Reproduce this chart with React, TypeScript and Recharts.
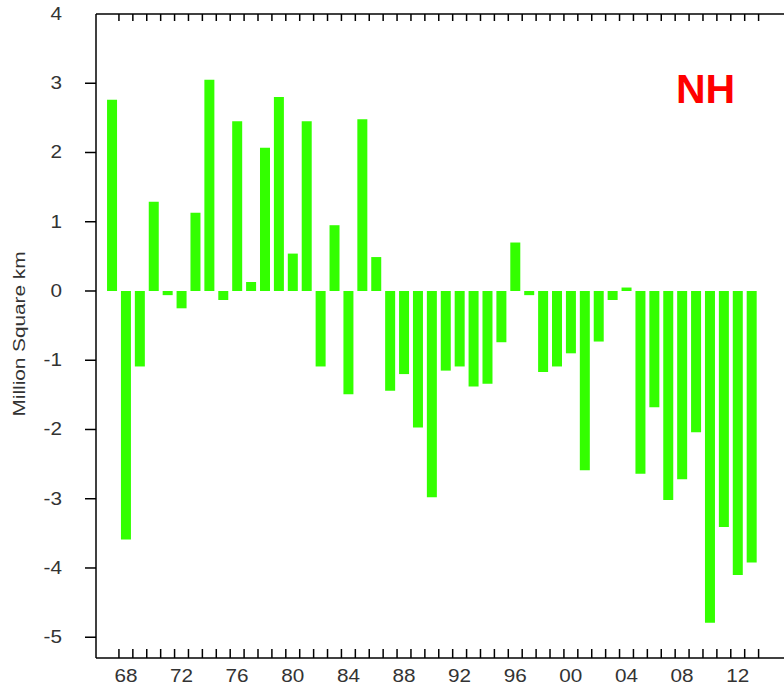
import React from "react";
import { BarChart, Bar, XAxis, YAxis } from "recharts";

const years = [
  1967, 1968, 1969, 1970, 1971, 1972, 1973, 1974, 1975, 1976, 1977, 1978,
  1979, 1980, 1981, 1982, 1983, 1984, 1985, 1986, 1987, 1988, 1989, 1990,
  1991, 1992, 1993, 1994, 1995, 1996, 1997, 1998, 1999, 2000, 2001, 2002,
  2003, 2004, 2005, 2006, 2007, 2008, 2009, 2010, 2011, 2012, 2013,
];

const anomalies = [
  2.76, -3.59, -1.09, 1.29, -0.06, -0.25, 1.13, 3.05, -0.13, 2.45, 0.13, 2.07,
  2.8, 0.54, 2.45, -1.09, 0.95, -1.49, 2.48, 0.49, -1.44, -1.2, -1.97, -2.98,
  -1.15, -1.09, -1.38, -1.34, -0.74, 0.7, -0.06, -1.17, -1.09, -0.9, -2.59,
  -0.73, -0.13, 0.05, -2.64, -1.68, -3.02, -2.72, -2.04, -4.79, -3.41, -4.1,
  -3.92,
];

const yTicks = [-5, -4, -3, -2, -1, 0, 1, 2, 3, 4];
const labelYears = [1968, 1972, 1976, 1980, 1984, 1988, 1992, 1996, 2000, 2004, 2008, 2012];
const tickLabels = ["68", "72", "76", "80", "84", "88", "92", "96", "00", "04", "08", "12"];
const boundaryTicks = years.map((y) => y + 0.5);

const data = years.map((year, i) => ({ year, value: anomalies[i] }));

const FONT = "'Liberation Sans', Arial, sans-serif";
const TEXT_COLOR = "#333";

const BottomTick = (props: any) => {
  const { x, y, payload } = props;
  const v = payload.value;
  if (Number.isInteger(v)) {
    const idx = labelYears.indexOf(v);
    if (idx < 0) return null;
    return (
      <text
        x={x}
        y={y + 24}
        textAnchor="middle"
        fontFamily={FONT}
        fontSize={18}
        fill={TEXT_COLOR}
        transform={`translate(${x},0) scale(1.15,1) translate(${-x},0)`}
      >
        {tickLabels[idx]}
      </text>
    );
  }
  return <line x1={x} x2={x} y1={y} y2={y - 9} stroke="#000" strokeWidth={1.5} />;
};

const TopTick = (props: any) => {
  const { x, y } = props;
  return <line x1={x} x2={x} y1={y} y2={y + 7} stroke="#000" strokeWidth={1.5} />;
};

const LeftTick = (props: any) => {
  const { x, y, payload } = props;
  return (
    <g>
      {payload.value !== 4 && (
        <line x1={x - 11} x2={x} y1={y} y2={y} stroke="#000" strokeWidth={1.5} />
      )}
      <text
        x={x - 34}
        y={y}
        dy={6}
        textAnchor="end"
        fontFamily={FONT}
        fontSize={18}
        fill={TEXT_COLOR}
        transform={`translate(${x - 34},0) scale(1.15,1) translate(${-(x - 34)},0)`}
      >
        {payload.value}
      </text>
    </g>
  );
};

const Annotations = () => (
  <g>
    <text
      x={25}
      y={334}
      transform="rotate(-90, 25, 334)"
      textAnchor="middle"
      fontFamily={FONT}
      fontSize={16}
      fill={TEXT_COLOR}
      textLength={165}
      lengthAdjust="spacingAndGlyphs"
    >
      Million Square km
    </text>
    <text
      x={676}
      y={103}
      fontFamily={FONT}
      fontSize={41}
      fontWeight="bold"
      fill="#ff0000"
    >
      NH
    </text>
  </g>
);

export default function App() {
  return (
    <div
      style={{
        position: "absolute",
        left: 0,
        top: 0,
        width: 784,
        height: 686,
        overflow: "hidden",
        background: "#fff",
      }}
    >
      <BarChart
        width={800}
        height={686}
        data={data}
        margin={{ top: 4, right: 4, bottom: 0, left: 0 }}
        barSize={10}
      >
        <XAxis
          dataKey="year"
          type="number"
          domain={[1965.85, 2016.19]}
          allowDataOverflow
          ticks={[...boundaryTicks, ...labelYears]}
          interval={0}
          tickSize={0}
          tickMargin={0}
          tick={<BottomTick />}
          axisLine={{ stroke: "#000", strokeWidth: 1.5 }}
          tickLine={false}
          height={28}
        />
        <XAxis
          xAxisId="top"
          dataKey="year"
          type="number"
          orientation="top"
          domain={[1965.85, 2016.19]}
          allowDataOverflow
          ticks={boundaryTicks}
          interval={0}
          tickSize={0}
          tickMargin={0}
          tick={<TopTick />}
          axisLine={{ stroke: "#000", strokeWidth: 1.5 }}
          tickLine={false}
          height={10}
        />
        <YAxis
          type="number"
          domain={[-5.3, 4]}
          allowDataOverflow
          ticks={yTicks}
          interval={0}
          tickSize={0}
          tickMargin={0}
          tick={<LeftTick />}
          axisLine={{ stroke: "#000", strokeWidth: 1.5 }}
          tickLine={false}
          width={96}
          label={<Annotations />}
        />
        <Bar dataKey="value" fill="#33ff00" isAnimationActive={false} />
      </BarChart>
    </div>
  );
}
